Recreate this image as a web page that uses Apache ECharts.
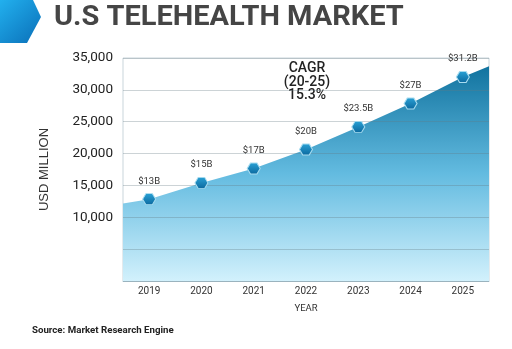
<!DOCTYPE html>
<html><head><meta charset="utf-8">
<script src="https://cdn.jsdelivr.net/npm/echarts@6/dist/echarts.min.js"></script>
<style>html,body{margin:0;padding:0;background:#fff}#c{width:512px;height:349px}</style>
</head><body><div id="c"></div>
<script>
const categories = ['2019','2020','2021','2022','2023','2024','2025'];
const values = [12850, 15400, 17660, 20640, 24190, 27850, 32020];
const valueLabels = ['$13B','$15B','$17B','$20B','$23.5B','$27B','$31.2B'];
const leftEdgeValue = 12180;
const rightEdgeValue = 33700;
const yTicks = [0, 5000, 10000, 15000, 20000, 25000, 30000, 35000];

const areaData = [[0, leftEdgeValue]].concat(values.map((v,i)=>[i+0.5, v])).concat([[categories.length, rightEdgeValue]]);
const markerData = values.map((v,i)=>({value:[i+0.5, v], label:valueLabels[i]}));
const hex = 'path://M-2,0L-1,-1.732L1,-1.732L2,0L1,1.732L-1,1.732Z';
const F = 'Roboto, "Noto Sans", sans-serif';

const chart = echarts.init(document.getElementById('c'), null, {renderer:'canvas'});
chart.setOption({
  animation:false,
  textStyle:{fontFamily:F},
  grid:{left:123, right:23, top:58, bottom:68, show:true, borderColor:'#c9d5db', borderWidth:1},
  xAxis:[
    {type:'category', data:categories, boundaryGap:true, position:'bottom',
     name:'YEAR', nameLocation:'middle', nameGap:23,
     nameTextStyle:{fontSize:9.5, color:'#333', fontFamily:F},
     axisLine:{lineStyle:{color:'#b5cfdc'}}, axisTick:{show:false},
     axisLabel:{fontSize:10, color:'#333', margin:5, fontFamily:F}},
    {type:'value', min:0, max:categories.length, show:false}
  ],
  yAxis:{type:'value', min:yTicks[0], max:yTicks[yTicks.length-1], interval:5000, z:3,
    name:'USD MILLION', nameLocation:'middle', nameGap:72, nameRotate:90,
    nameTextStyle:{fontSize:13, color:'#333', fontFamily:'"Liberation Sans", Arial, sans-serif'},
    axisLine:{show:false}, axisTick:{show:false},
    splitLine:{lineStyle:{color:'rgba(100,120,130,0.33)'}},
    axisLabel:{fontSize:13.5, color:'#222', margin:10, fontFamily:F,
      formatter:v=> v < 10000 ? '' : v.toLocaleString('en-US')}},
  graphic:[
    {type:'polygon', shape:{points:[[0,0],[33,0],[41,17],[27,43],[0,43]]},
     style:{fill:new echarts.graphic.LinearGradient(0,0,1,1,[{offset:0,color:'#22b0ee'},{offset:1,color:'#0a6fb8'}])}},
    {type:'text', x:54, y:4, scaleX:1.035, style:{text:'U.S TELEHEALTH MARKET', font:'bold 28px Roboto, sans-serif', fill:'#454545'}},
    {type:'text', x:307, y:62, style:{text:'CAGR\n(20-25)\n15.3%', font:'500 14px Roboto, sans-serif', fill:'#222', align:'center', lineHeight:13.5}},
    {type:'text', left:32, top:326, style:{text:'Source: Market Research Engine', font:'bold 9.7px Roboto, sans-serif', fill:'#222'}}
  ],
  series:[
    {type:'line', xAxisIndex:1, data:areaData, symbol:'none', z:2,
     lineStyle:{width:0},
     areaStyle:{opacity:1, color:new echarts.graphic.LinearGradient(0,0,0,1,[
       {offset:0,color:'#11739f'},{offset:0.5,color:'#63bbe0'},{offset:1,color:'#d2f1fc'}])}},
    {type:'scatter', xAxisIndex:1, data:markerData, symbol:hex, symbolSize:[13,11], z:5,
     itemStyle:{color:new echarts.graphic.LinearGradient(0,0,0,1,[{offset:0,color:'#2aa2d6'},{offset:1,color:'#0b689e'}]),
       borderColor:'#a8dcf0', borderWidth:1, opacity:1},
     label:{show:true, position:'top', distance:7, fontSize:9.5, color:'#333', fontFamily:F,
       formatter:p=>p.data.label}}
  ]
});
</script></body></html>
